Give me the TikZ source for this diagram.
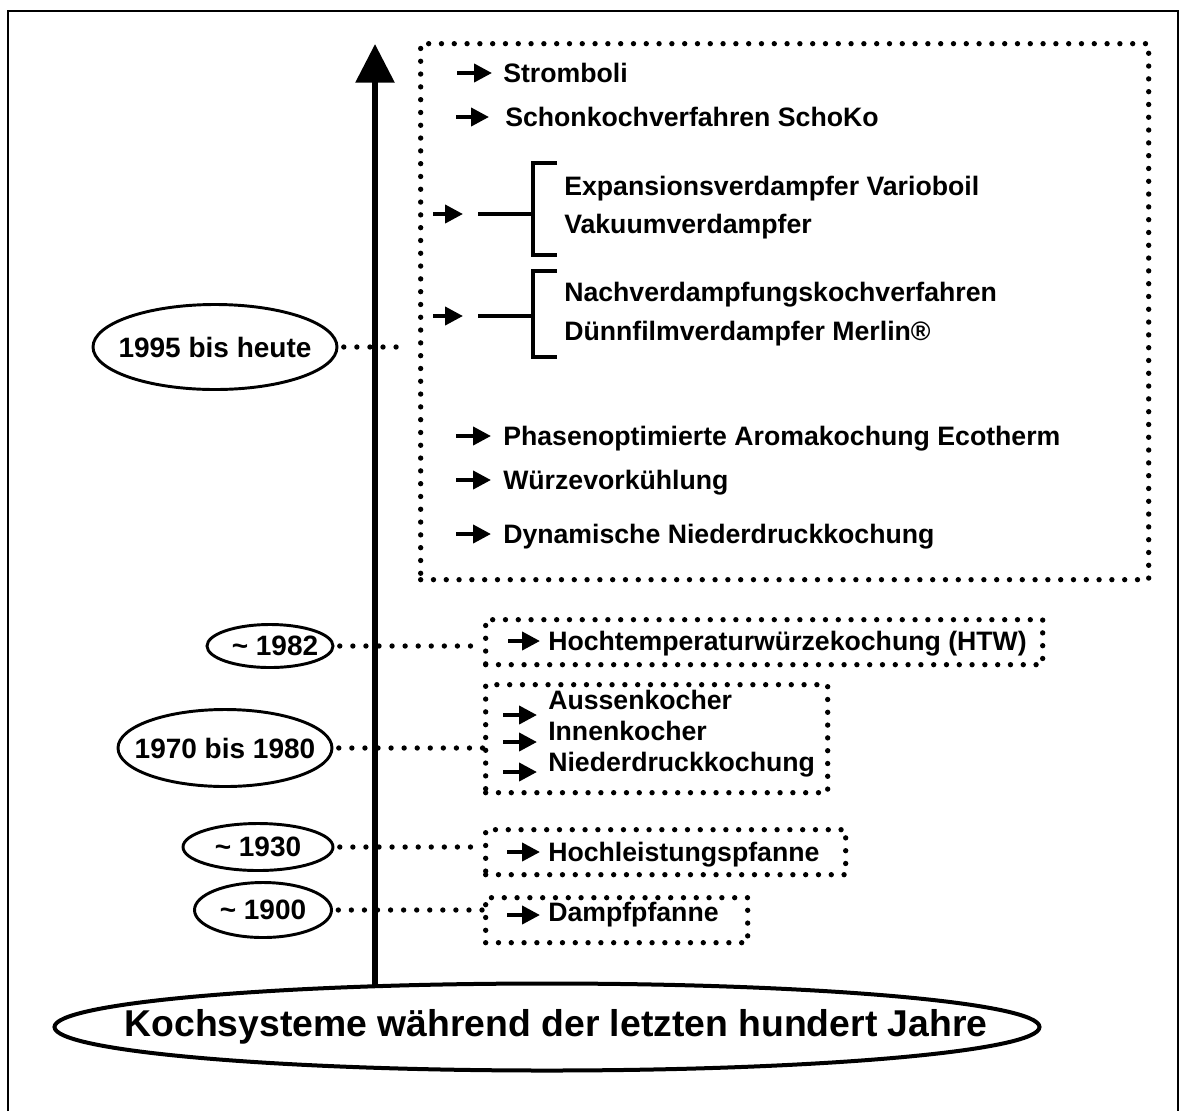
\documentclass[tikz,border=0pt]{standalone}
\usepackage{fontspec}
\setmainfont{Liberation Sans}
\usetikzlibrary{arrows.meta,shapes.geometric}
\begin{document}
\begin{tikzpicture}[x=0.75pt,y=-0.75pt,
 every node/.style={inner sep=0pt},
 item/.style={anchor=west,font=\bfseries\fontsize{20}{24}\selectfont,text height=18pt,text depth=4pt},
 datelbl/.style={draw,ellipse,line width=2.2pt},
 datetxt/.style={font=\bfseries\fontsize{21}{25}\selectfont},
 dotbox/.style={draw,line width=4pt,line cap=round,dash pattern=on 0pt off 9.6pt,anchor=north west},
 dotline/.style={line width=4pt,line cap=round,dash pattern=on 0pt off 9.8pt,shorten <=4pt},
 sarrow/.style={line width=3pt,-{Triangle[length=13.5pt,width=13.5pt]}},
 brk/.style={line width=3pt},
]
\useasboundingbox (0,0) rectangle (1180,1111);
\draw[line width=2.2pt] (8,1111) -- (8,11) -- (1178,11) -- (1178,1111);

% title and main arrow
\node[draw,ellipse,line width=3pt,minimum width={985*0.75pt},minimum height={87*0.75pt}] (title) at (547,1027) {};
\node[font=\bfseries\fontsize{28}{32}\selectfont] (titletxt) at (556,1027) {Kochsysteme während der letzten hundert Jahre};
\coordinate (abase) at (375,986);
\coordinate (atip) at (375,44);
\draw[line width=4.5pt,-{Triangle[length=29pt,width=28.5pt]}] (abase) -- (atip);

% boxes
\node[dotbox,minimum width={728*0.75pt},minimum height={536*0.75pt}] (bBig) at (418,41) {};
\node[dotbox,minimum width={557*0.75pt},minimum height={45*0.75pt}] (b1982) at (483,617) {};
\node[dotbox,minimum width={342*0.75pt},minimum height={108*0.75pt}] (b1970) at (483,682) {};
\node[dotbox,minimum width={360*0.75pt},minimum height={45*0.75pt}] (b1930) at (483,827) {};
\node[dotbox,minimum width={262*0.75pt},minimum height={45*0.75pt}] (b1900) at (483,895) {};

% date ellipses
\node[datelbl,minimum width={244*0.75pt},minimum height={85*0.75pt}] (e1995) at (215,347) {};
\node[datetxt] (l1995) at (e1995.center) {1995 bis heute};
\node[datelbl,minimum width={126*0.75pt},minimum height={43*0.75pt}] (e1982) at (270,646) {};
\node[datetxt] (l1982) at (275,646) {\textasciitilde{} 1982};
\node[datelbl,minimum width={214*0.75pt},minimum height={77*0.75pt}] (e1970) at (225,748) {};
\node[datetxt] (l1970) at (e1970.center) {1970 bis 1980};
\node[datelbl,minimum width={150*0.75pt},minimum height={47*0.75pt}] (e1930) at (258,847) {};
\node[datetxt] (l1930) at (e1930.center) {\textasciitilde{} 1930};
\node[datelbl,minimum width={137*0.75pt},minimum height={55*0.75pt}] (e1900) at (263,910) {};
\node[datetxt] (l1900) at (e1900.center) {\textasciitilde{} 1900};

% connectors
\coordinate (c1995) at (398,347);
\draw[dotline] (e1995.east) -- (c1995);
\draw[dotline] (e1982.east) -- (e1982.east -| b1982.west);
\draw[dotline] (e1970.east) -- (e1970.east -| b1970.west);
\draw[dotline] (e1930.east) -- (e1930.east -| b1930.west);
\draw[dotline] (e1900.east) -- (e1900.east -| b1900.west);

% big box contents
\node[item] (t1) at (503,73) {Stromboli};
\draw[sarrow] (457,73) -- (492,73);
\node[item] (t2) at (505,117) {Schonkochverfahren SchoKo};
\draw[sarrow] (456,117) -- (489,117);

\node[item] (g1a) at (564,186) {Expansionsverdampfer Varioboil};
\node[item] (g1b) at (564,224) {Vakuumverdampfer};
\draw[brk] (557,163) -- (533,163) -- (533,255) -- (557,255);
\draw[brk] (478,214) -- (533,214);
\draw[sarrow] (433,214) -- (463,214);

\node[item] (g2a) at (564,292) {Nachverdampfungskochverfahren};
\node[item] (g2b) at (564,331) {Dünnfilmverdampfer Merlin®};
\draw[brk] (557,271) -- (533,271) -- (533,357) -- (557,357);
\draw[brk] (478,316) -- (533,316);
\draw[sarrow] (433,316) -- (463,316);

\node[item] (t3) at (503,436) {Phasenoptimierte Aromakochung Ecotherm};
\draw[sarrow] (456,436) -- (491,436);
\node[item] (t4) at (503,480) {Würzevorkühlung};
\draw[sarrow] (456,480) -- (491,480);
\node[item] (t5) at (503,534) {Dynamische Niederdruckkochung};
\draw[sarrow] (456,534) -- (491,534);

% small boxes contents
\node[item] (h1) at (548,641) {Hochtemperaturwürzekochung (HTW)};
\draw[sarrow] (508,641) -- (540,641);

\node[item] (a1) at (548,700) {Aussenkocher};
\node[item] (a2) at (548,731) {Innenkocher};
\node[item] (a3) at (548,762) {Niederdruckkochung};
\draw[sarrow] (503,715) -- (537,715);
\draw[sarrow] (503,742) -- (537,742);
\draw[sarrow] (503,772) -- (537,772);

\node[item] (hl) at (548,852) {Hochleistungspfanne};
\draw[sarrow] (507,852) -- (540,852);
\node[item] (dp) at (548,912) {Dampfpfanne};
\draw[sarrow] (507,915) -- (540,915);
\end{tikzpicture}
\end{document}
